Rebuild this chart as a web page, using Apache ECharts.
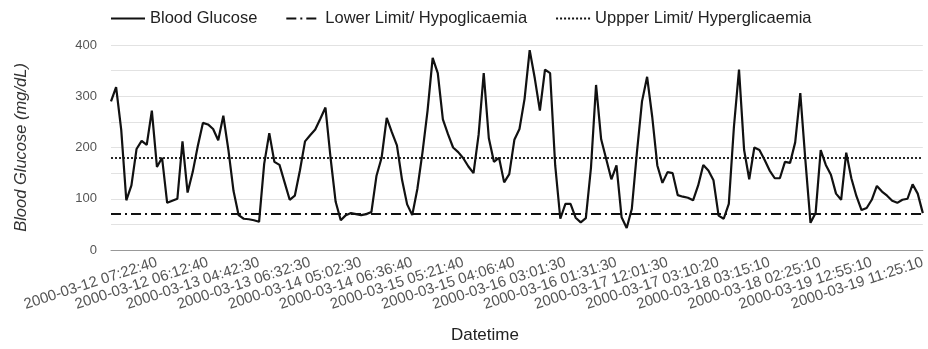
<!DOCTYPE html>
<html>
<head>
<meta charset="utf-8">
<script src="https://cdn.jsdelivr.net/npm/echarts@6/dist/echarts.min.js"></script>
<style>
html,body{margin:0;padding:0;background:#fff;}
#chart{width:928px;height:349px;}
</style>
</head>
<body>
<div id="chart"></div>
<script>
// Tick labels shown on the x axis (first at sample 9, then every 10 samples)
const tickLabels = [
  '2000-03-12 07:22:40','2000-03-12 06:12:40','2000-03-13 04:42:30','2000-03-13 06:32:30',
  '2000-03-14 05:02:30','2000-03-14 06:36:40','2000-03-15 05:21:40','2000-03-15 04:06:40',
  '2000-03-16 03:01:30','2000-03-16 01:31:30','2000-03-17 12:01:30','2000-03-17 03:10:20',
  '2000-03-18 03:15:10','2000-03-18 02:25:10','2000-03-19 12:55:10','2000-03-19 11:25:10'
];
const firstLabelIndex = 9;
const labelStep = 10;

// Blood glucose readings (mg/dL)
const bloodGlucose = [
  290,318,235,97,126,197,213,205,272,162,
  180,92,96,100,212,112,152,203,248,245,
  236,214,262,195,115,68,61,60,58,55,
  168,228,172,166,132,98,106,155,212,224,
  235,256,278,180,94,58,68,72,70,68,
  70,74,145,180,258,230,204,137,89,68,
  119,190,272,375,345,255,226,200,191,179,
  163,150,225,345,218,172,180,132,148,215,
  236,295,390,335,272,352,345,165,61,90,
  90,63,54,62,160,322,216,177,138,165,
  64,43,80,190,290,338,260,165,131,152,
  150,107,104,102,97,126,166,155,136,67,
  61,90,240,352,195,138,200,195,176,155,
  140,140,172,170,210,306,175,53,72,195,
  166,147,110,98,190,140,105,78,82,98,
  125,114,106,96,92,98,100,128,110,72
];

const lowerLimit = 70;
const upperLimit = 180;
const seriesNames = ['Blood Glucose','Lower Limit/ Hypoglicaemia','Uppper Limit/ Hyperglicaemia'];

// category axis: one slot per reading, tick label text at the labelled slots
const categories = bloodGlucose.map((v, i) => {
  const k = (i - firstLabelIndex) / labelStep;
  return (i >= firstLabelIndex && Number.isInteger(k)) ? tickLabels[k] : '';
});

const FONT = '"Liberation Sans", Arial, sans-serif';
const dashDot = [10, 4, 2, 4];
const dotted = [2, 2];

const chart = echarts.init(document.getElementById('chart'), null, {renderer: 'canvas'});
chart.setOption({
  animation: false,
  backgroundColor: '#fff',
  textStyle: {fontFamily: FONT},
  legend: {
    left: 105, top: 5,
    itemWidth: 34, itemHeight: 12, itemGap: 28,
    itemStyle: {opacity: 0},
    textStyle: {fontSize: 16.5, color: '#222', fontFamily: FONT},
    data: seriesNames
  },
  grid: {left: 111, right: 0, top: 45, bottom: 97},
  xAxis: {
    type: 'category',
    data: categories,
    boundaryGap: false,
    name: 'Datetime',
    nameLocation: 'middle',
    nameGap: 77,
    nameTextStyle: {fontSize: 17, color: '#222', fontFamily: FONT, padding: [0, 64, 0, 0]},
    axisLine: {show: true, lineStyle: {color: '#999', width: 1}},
    axisTick: {show: false},
    axisLabel: {
      interval: (idx) => idx >= firstLabelIndex && (idx - firstLabelIndex) % labelStep === 0,
      rotate: 18, margin: 12, fontSize: 15, color: '#555', fontFamily: FONT
    },
    splitLine: {show: false}
  },
  yAxis: {
    type: 'value',
    min: 0, max: 400, interval: 50,
    name: 'Blood Glucose (mg/dL)',
    nameLocation: 'middle',
    nameGap: 81,
    nameTextStyle: {fontSize: 16.5, fontStyle: 'italic', color: '#333', fontFamily: FONT},
    axisLine: {show: false},
    axisTick: {show: false},
    axisLabel: {
      margin: 14, fontSize: 13, color: '#555', fontFamily: FONT,
      formatter: (v) => (v % 100 === 0 ? String(v) : '')
    },
    splitLine: {lineStyle: {color: '#e2e2e2', width: 1}}
  },
  series: [
    {
      name: seriesNames[0], type: 'line', data: bloodGlucose,
      symbol: 'none', smooth: false,
      lineStyle: {color: '#111', width: 2.2},
      itemStyle: {color: '#111'}
    },
    {
      name: seriesNames[1], type: 'line', data: [],
      symbol: 'none',
      lineStyle: {color: '#111', width: 2, type: dashDot},
      itemStyle: {color: '#111'},
      markLine: {
        silent: true, symbol: ['none','none'], label: {show: false},
        lineStyle: {color: '#111', width: 1.8, type: dashDot},
        data: [{yAxis: lowerLimit}]
      }
    },
    {
      name: seriesNames[2], type: 'line', data: [],
      symbol: 'none',
      lineStyle: {color: '#111', width: 2, type: dotted},
      itemStyle: {color: '#111'},
      markLine: {
        silent: true, symbol: ['none','none'], label: {show: false},
        lineStyle: {color: '#111', width: 1.8, type: dotted},
        data: [{yAxis: upperLimit}]
      }
    }
  ]
});
</script>
</body>
</html>
